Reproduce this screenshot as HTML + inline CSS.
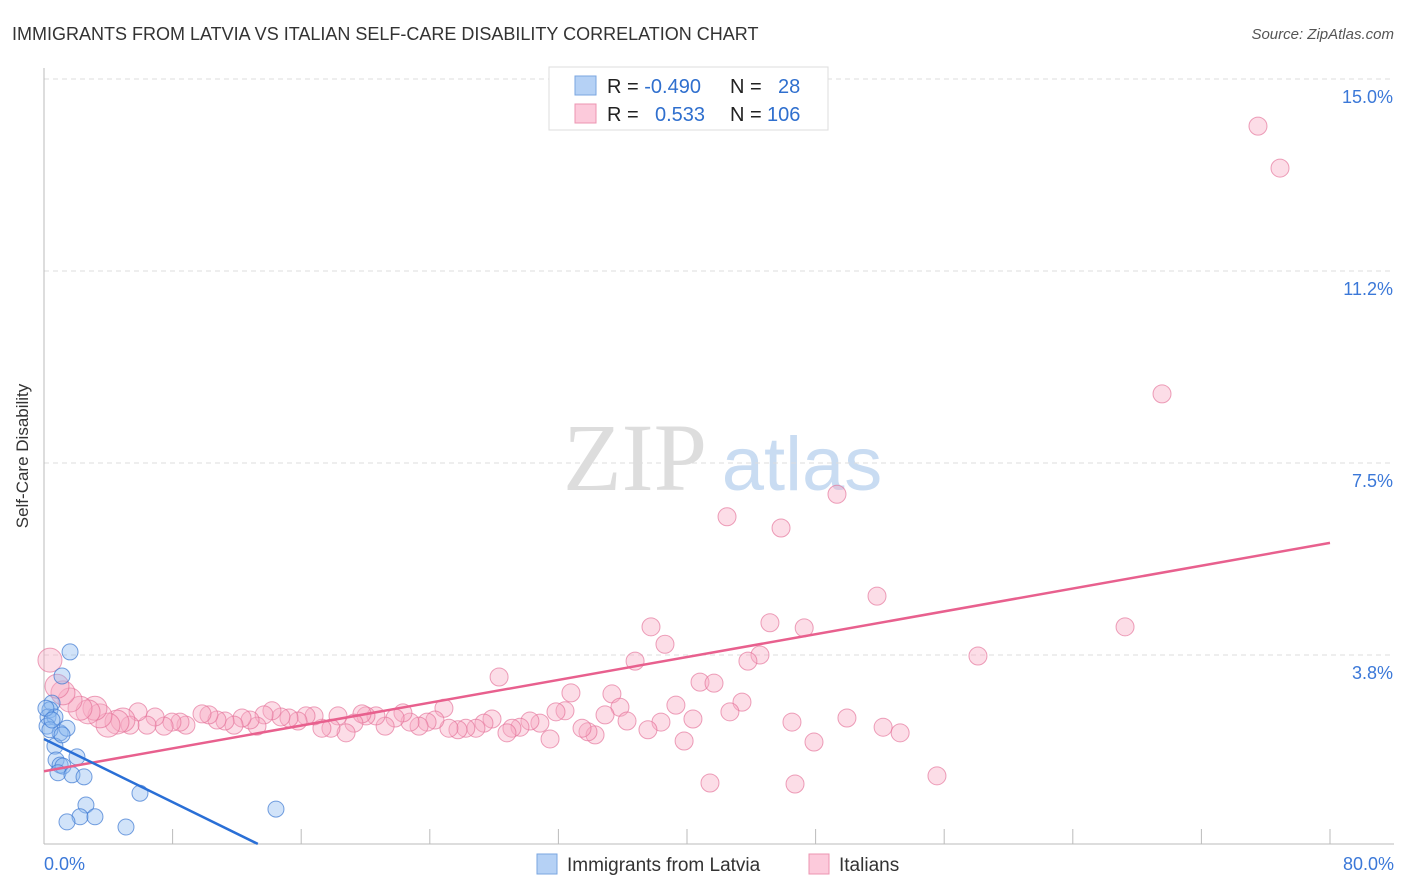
<!DOCTYPE html>
<html><head><meta charset="utf-8"><style>
body{margin:0;background:#fff;font-family:"Liberation Sans",sans-serif}
svg{display:block}
</style></head><body>
<svg width="1406" height="892">
<text x="12" y="40" font-size="18" fill="#333">IMMIGRANTS FROM LATVIA VS ITALIAN SELF-CARE DISABILITY CORRELATION CHART</text>
<text x="1394" y="39" font-size="15" fill="#555" font-style="italic" text-anchor="end">Source: ZipAtlas.com</text>
<g>
<text x="635" y="490" font-size="96" font-family="Liberation Serif,serif" fill="#ddd" text-anchor="middle">ZIP</text>
<text x="802" y="490" font-size="76" fill="#c9dcf2" text-anchor="middle">atlas</text></g>
<g id="grid"></g>
<g id="axes"></g>
<g id="marks"></g>
<text x="28" y="456" font-size="17" fill="#333" transform="rotate(-90 28 456)" text-anchor="middle">Self-Care Disability</text>
<g>
<rect x="549" y="67" width="279" height="63" fill="#fff" stroke="#ddd"/>
<rect x="575" y="76" width="21" height="19" fill="#b5d1f5" stroke="#7aa6e0"/>
<rect x="575" y="104" width="21" height="19" fill="#fccadb" stroke="#ec94b2"/>
<text font-size="20" fill="#222" x="607" y="93">R = <tspan fill="#2f6fce">-0.490</tspan><tspan x="730">N = </tspan><tspan x="778" fill="#2f6fce">28</tspan></text>
<text font-size="20" fill="#222" x="607" y="121">R = <tspan x="655" fill="#2f6fce">0.533</tspan><tspan x="730">N = </tspan><tspan x="767" fill="#2f6fce">106</tspan></text>
</g>
<g>
<rect x="537" y="854" width="20" height="20" fill="#b5d1f5" stroke="#7aa6e0"/>
<text x="567" y="871" font-size="19" fill="#333">Immigrants from Latvia</text>
<rect x="809" y="854" width="20" height="20" fill="#fccadb" stroke="#ec94b2"/>
<text x="839" y="871" font-size="19" fill="#333">Italians</text>
</g>
</svg>
<script>
const yTicks=[3.75,7.5,11.25,15];
const yTickLabels=["3.8%","7.5%","11.2%","15.0%"];
const xTickLabels=["0.0%","80.0%"];
const blueX=[1.62,1.12,0.5,0.37,0.25,0.68,0.19,1.0,1.43,0.68,0.75,1.0,1.18,0.87,1.74,2.49,2.05,5.97,2.61,2.24,1.43,3.17,5.1,14.43,0.37,0.12,0.5,1.12];
const blueY=[3.81,3.34,2.81,2.68,2.54,2.54,2.36,2.23,2.32,1.97,1.7,1.6,1.58,1.45,1.41,1.37,1.76,1.05,0.82,0.59,0.49,0.59,0.39,0.74,2.29,2.71,2.48,2.19];
const pinkX=[75.52,76.89,69.55,49.33,42.49,45.85,51.82,45.16,47.29,37.76,38.63,67.25,58.1,44.54,43.79,36.77,40.81,41.68,32.78,35.33,28.31,43.42,39.31,35.83,32.41,31.85,34.9,42.67,49.95,46.53,40.37,38.38,36.27,52.2,53.26,47.9,39.82,37.57,34.28,33.84,33.47,31.48,30.85,30.23,29.61,29.11,28.8,27.87,27.37,26.87,26.24,25.75,25.19,24.88,24.32,23.83,23.33,22.77,22.33,21.84,21.22,20.65,20.03,19.78,19.28,18.79,18.29,17.85,17.29,16.8,16.3,15.8,15.24,14.74,14.18,13.69,13.25,12.82,12.32,11.82,11.26,10.76,10.26,9.83,8.83,8.46,7.96,7.47,6.91,6.41,5.85,5.35,4.91,4.54,3.98,3.48,3.17,2.74,2.24,1.62,1.18,0.81,0.37,55.55,41.43,46.72];
const pinkY=[14.08,13.26,8.85,6.89,6.45,6.23,4.9,4.38,4.28,4.3,3.96,4.3,3.73,3.75,3.63,3.63,3.22,3.2,3.01,2.99,3.32,2.83,2.77,2.73,2.66,2.64,2.58,2.64,2.52,2.44,2.5,2.44,2.46,2.34,2.23,2.05,2.07,2.29,2.19,2.25,2.32,2.11,2.42,2.46,2.34,2.32,2.23,2.5,2.42,2.32,2.32,2.29,2.32,2.71,2.48,2.44,2.36,2.44,2.62,2.52,2.36,2.56,2.56,2.6,2.42,2.23,2.56,2.32,2.32,2.56,2.56,2.46,2.52,2.54,2.66,2.58,2.36,2.48,2.52,2.38,2.46,2.48,2.58,2.6,2.38,2.44,2.44,2.36,2.54,2.38,2.64,2.38,2.48,2.44,2.38,2.56,2.71,2.64,2.71,2.87,3.01,3.14,3.65,1.39,1.25,1.23];
const blueTrendX=[0,13.3];
const blueTrendY=[2.11,0.06];
const pinkTrendX=[0,80];
const pinkTrendY=[1.48,5.94];
const NS="http://www.w3.org/2000/svg";
const X=v=>44+v*1286/80, Y=v=>847-v*51.2;
function mk(t,a,p){const e=document.createElementNS(NS,t);for(const k in a)e.setAttribute(k,a[k]);p.appendChild(e);return e;}
const grid=document.getElementById('grid'),axes=document.getElementById('axes'),marks=document.getElementById('marks');
yTicks.forEach((t,i)=>{
 const l=mk('line',{x1:44,x2:1394,y1:Y(t),y2:Y(t),stroke:'#ddd','stroke-dasharray':'5,4'},grid);
 
 
 const tx=mk('text',{x:1393,y:Y(t)+24,'font-size':18,fill:'#3b78d8','text-anchor':'end'},axes);
 tx.textContent=yTickLabels[i];
 
 
});
const ax=mk('line',{x1:44,x2:1394,y1:844,y2:844,stroke:'#bbb'},axes);


const ay=mk('line',{x1:44,x2:44,y1:68,y2:844,stroke:'#bbb'},axes);


for(let i=1;i<=10;i++){const t=mk('line',{x1:X(i*8),x2:X(i*8),y1:829,y2:844,stroke:'#bbb'},axes);
 
 }
[[0,'start',44],[1,'end',1394]].forEach(([i,a,x])=>{const t=mk('text',{x:x,y:870,'font-size':18,fill:'#3b78d8','text-anchor':a},axes);t.textContent=xTickLabels[i];
 
 });
pinkX.forEach((v,i)=>{const c=mk('circle',{cx:X(v),cy:Y(pinkY[i]),r:v<5?12:9,fill:'rgba(248,170,196,0.4)',stroke:'rgba(228,110,150,0.65)','stroke-width':1},marks);
 
 });
blueX.forEach((v,i)=>{const c=mk('circle',{cx:X(v),cy:Y(blueY[i]),r:8,fill:'rgba(140,185,240,0.4)',stroke:'rgba(60,120,210,0.7)','stroke-width':1},marks);
 
 });
const pl=mk('line',{x1:X(pinkTrendX[0]),y1:Y(pinkTrendY[0]),x2:X(pinkTrendX[1]),y2:Y(pinkTrendY[1]),stroke:'#e8608e','stroke-width':2.5},marks);


const bl=mk('line',{x1:X(blueTrendX[0]),y1:Y(blueTrendY[0]),x2:X(blueTrendX[1]),y2:Y(blueTrendY[1]),stroke:'#2a6fd6','stroke-width':2.5},marks);


</script>
</body></html>
